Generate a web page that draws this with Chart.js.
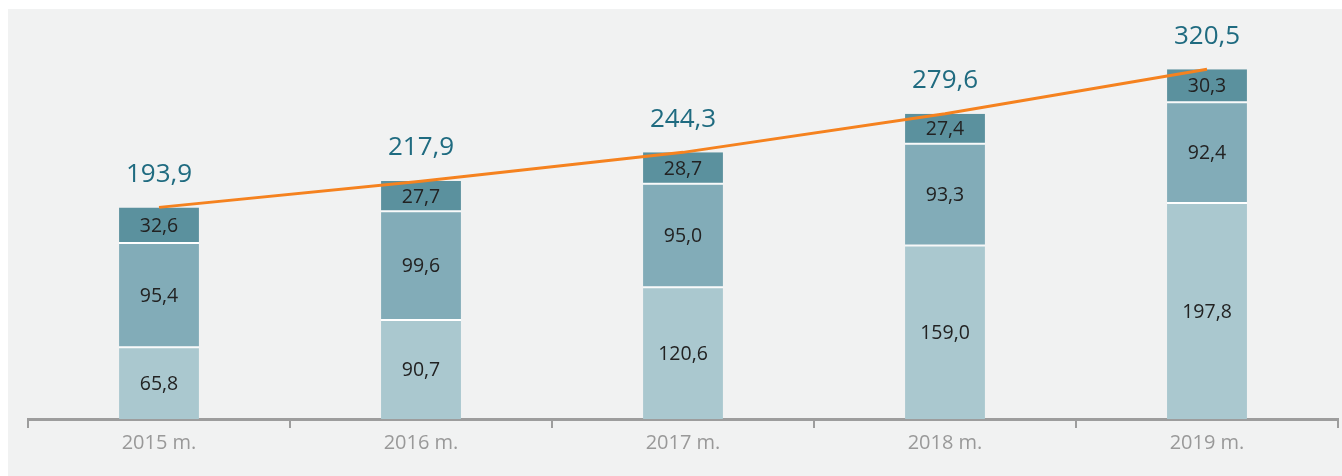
<!DOCTYPE html>
<html><head><meta charset="utf-8">
<script src="https://cdn.jsdelivr.net/npm/chart.js@4/dist/chart.umd.min.js"></script>
<style>
html,body{margin:0;padding:0;background:#fff;}
#wrap{position:absolute;left:8px;top:9px;width:1334px;height:467px;background:#f1f2f2;}
canvas{display:block;}
</style></head><body>
<div id="wrap"><canvas id="c" width="1334" height="467"></canvas></div>
<script>
const categories = ['2015 m.', '2016 m.', '2017 m.', '2018 m.', '2019 m.'];
const bottomSeries = [65.8, 90.7, 120.6, 159.0, 197.8];
const middleSeries = [95.4, 99.6, 95.0, 93.3, 92.4];
const topSeries = [32.6, 27.7, 28.7, 27.4, 30.3];
const totals = [193.9, 217.9, 244.3, 279.6, 320.5];

const fmt = v => v.toFixed(1).replace('.', ',');
const FONT = "'Open Sans', 'Noto Sans', sans-serif";

const labelPlugin = {
  id: 'labels',
  afterDatasetsDraw(chart) {
    const ctx = chart.ctx;
    ctx.save();
    ctx.textAlign = 'center';
    ctx.textBaseline = 'middle';
    [0,1,2].forEach(di => {
      const meta = chart.getDatasetMeta(di);
      const data = chart.data.datasets[di].data;
      meta.data.forEach((bar, i) => {
        const p = bar.getProps(['x','y','base'], true);
        ctx.fillStyle = '#222';
        ctx.font = '19.5px ' + FONT;
        ctx.fillText(fmt(data[i]), p.x, (p.y + p.base) / 2 + 1);
      });
    });
    const topMeta = chart.getDatasetMeta(2);
    topMeta.data.forEach((bar, i) => {
      const p = bar.getProps(['x','y'], true);
      ctx.fillStyle = '#1f6b80';
      ctx.font = '26px ' + FONT;
      ctx.fillText(fmt(totals[i]), p.x, p.y - 33);
    });
    ctx.restore();
  }
};

const barCommon = {type:'bar', borderColor:'#ffffff', borderSkipped:false, stack:'s', order:2, barPercentage:0.305, categoryPercentage:1};

new Chart(document.getElementById('c'), {
  data: {
    labels: categories,
    datasets: [
      Object.assign({}, barCommon, {data: bottomSeries, backgroundColor:'#aac8cf', borderWidth:{top:1,bottom:0,left:0,right:0}}),
      Object.assign({}, barCommon, {data: middleSeries, backgroundColor:'#82acb8', borderWidth:{top:1,bottom:1,left:0,right:0}}),
      Object.assign({}, barCommon, {data: topSeries, backgroundColor:'#5b919e', borderWidth:{top:0,bottom:1,left:0,right:0}}),
      {type:'line', data: totals, borderColor:'#f5821f', borderWidth:3, pointRadius:0, stack:'line', order:1, tension:0}
    ]
  },
  options: {
    responsive:false,
    animation:false,
    layout:{padding:{left:20,right:4,top:28,bottom:18}},
    plugins:{legend:{display:false}, tooltip:{enabled:false}},
    scales:{
      x:{stacked:true, offset:true,
        grid:{offset:true, drawOnChartArea:false, drawTicks:true, tickLength:9, color:'#9d9d9d', lineWidth:2},
        border:{display:true, color:'#9d9d9d', width:3},
        ticks:{color:'#999', font:{family:FONT, size:20}, padding:3}
      },
      y:{stacked:true, display:false, min:0, max:350}
    }
  },
  plugins:[labelPlugin]
});
</script>
</body></html>
